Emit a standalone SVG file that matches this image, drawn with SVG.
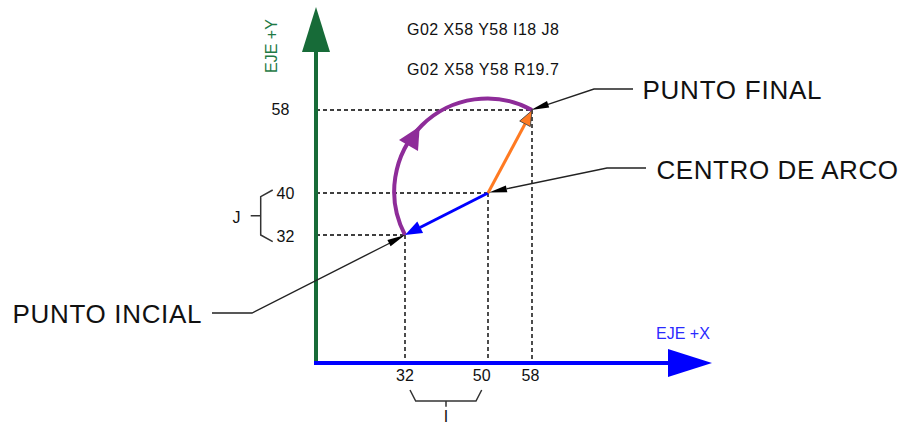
<svg xmlns="http://www.w3.org/2000/svg" width="906" height="426" viewBox="0 0 906 426">
<style>
text{font-family:"Liberation Sans",Arial,sans-serif;fill:#111}
.big{font-size:26px}
.num{font-size:16px}
.code{font-size:16px}
.dash{stroke:#000;stroke-width:1.4;stroke-dasharray:4 3;fill:none}
.lead{stroke:#222;stroke-width:1.4;fill:none}
.br{stroke:#333;stroke-width:1.5;fill:none}
</style>
<rect width="906" height="426" fill="#fff"/>
<g id="guides">
<path class="dash" d="M316,110H532M316,193H488M316,235H405M405,235V363M488,193V363M532,110V363"/>
</g>
<g id="axis-y">
<line x1="316" y1="364" x2="316" y2="50" stroke="#176b38" stroke-width="4"/>
<polygon points="316,7 330,52 302,52" fill="#176b38"/>
<text transform="translate(276.5,73) rotate(-90)" style="font-size:16px;fill:#1f7a45">EJE +Y</text>
</g>
<g id="axis-x">
<line x1="314" y1="363" x2="670" y2="363" stroke="#0000ff" stroke-width="4"/>
<polygon points="712,363 668,349 668,377" fill="#0000ff"/>
<text x="656" y="339" style="font-size:16px;fill:#2a2aff">EJE +X</text>
</g>
<g id="code">
<text class="code" x="407" y="35" textLength="152" lengthAdjust="spacing">G02 X58 Y58 I18 J8</text>
<text class="code" x="407" y="75" textLength="152" lengthAdjust="spacing">G02 X58 Y58 R19.7</text>
</g>
<g id="y-labels">
<text class="num" x="271.5" y="115">58</text>
<text class="num" x="276.5" y="199">40</text>
<text class="num" x="276.5" y="241.5">32</text>
<path class="br" d="M272.7,190L260.7,196.7V235L272.7,241.7M250.7,215.7H260.7"/>
<text class="num" x="232.5" y="223">J</text>
</g>
<g id="x-labels">
<text class="num" x="405" y="381" text-anchor="middle">32</text>
<text class="num" x="481.7" y="381" text-anchor="middle">50</text>
<text class="num" x="530.5" y="381" text-anchor="middle">58</text>
<path class="br" d="M410,390L415.7,401H476L481.7,390M446,401V406.7"/>
<text class="num" x="446" y="422" text-anchor="middle">I</text>
</g>
<g id="arc">
<path d="M405,235A93,93 0 0 1 532,110" fill="none" stroke="#8e2c99" stroke-width="4"/>
<polygon points="419.7,126.6 418,151.1 399,139.9" fill="#8e2c99"/>
</g>
<g id="radius-start">
<line x1="488" y1="193" x2="420" y2="227.5" stroke="#0000ff" stroke-width="3"/>
<polygon points="405,235 423.1,233.1 417.3,221.5" fill="#0000ff"/>
</g>
<g id="radius-end">
<line x1="488" y1="193" x2="525" y2="124" stroke="#ff7a22" stroke-width="3"/>
<polygon points="532,110.5 530.3,126.6 519.7,121" fill="#ff7a22" stroke="#333" stroke-width="0.8"/>
</g>
<g id="connectors">
<path class="lead" d="M212,313H252L390,243"/>
<polygon points="405,235 390.6,246.3 387.4,240.1" fill="#000"/>
<path class="lead" d="M633,89H594L548,104.3"/>
<polygon points="531,110 549.2,107.6 547,101" fill="#000"/>
<path class="lead" d="M646,168H607L506.6,188.8"/>
<polygon points="489,192.5 507.3,192.2 505.9,185.4" fill="#000"/>
</g>
<g id="punto-inicial"><text class="big" x="12.5" y="322.5" textLength="189" lengthAdjust="spacing">PUNTO INCIAL</text></g>
<g id="punto-final"><text class="big" x="642.5" y="99.3" textLength="179" lengthAdjust="spacing">PUNTO FINAL</text></g>
<g id="centro"><text class="big" x="656.5" y="179.3" textLength="241.5" lengthAdjust="spacing">CENTRO DE ARCO</text></g>
</svg>
